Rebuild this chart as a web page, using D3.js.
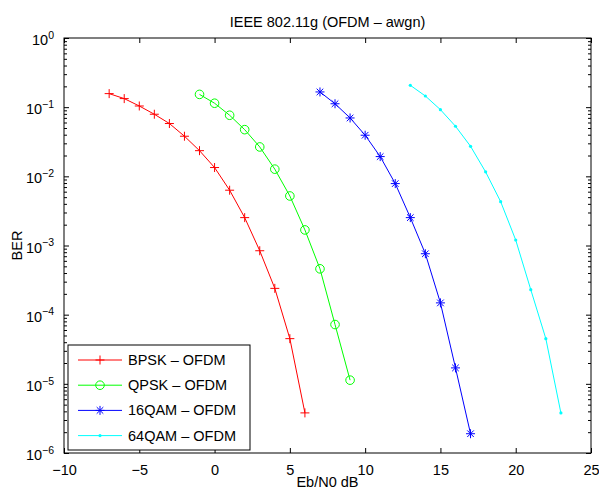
<!DOCTYPE html>
<html>
<head>
<meta charset="utf-8">
<script src="https://cdn.jsdelivr.net/npm/d3@7"></script>
<style>
body { margin: 0; background: #fff; }
svg { font-family: "Liberation Sans", Arial, sans-serif; }
.axis text { font-size: 14.5px; fill: #000; }
.axis line { stroke: #000; }
</style>
</head>
<body>
<script>
var margin = {top: 38, right: 8, bottom: 39, left: 64};
const width = 527, height = 415;

// Eb/N0 (dB) and BER values
var bpskEbN0 = [-7, -6, -5, -4, -3, -2, -1, 0, 1, 2, 3, 4, 5, 6];
var bpskBer = [0.157, 0.133, 0.104, 0.079, 0.058, 0.038, 0.0235, 0.0134, 0.0063, 0.00253, 8.4e-4, 2.4e-4, 4.5e-5, 3.8e-6];

var qpskEbN0 = [-1, 0, 1, 2, 3, 4, 5, 6, 7, 8, 9];
var qpskBer = [0.153, 0.114, 0.0764, 0.0473, 0.0266, 0.0127, 0.0052, 0.00168, 4.6e-4, 7.2e-5, 1.13e-5];

var qam16EbN0 = [7, 8, 9, 10, 11, 12, 13, 14, 15, 16, 17];
var qam16Ber = [0.166, 0.112, 0.0698, 0.0393, 0.0193, 0.00785, 0.00253, 7.6e-4, 1.48e-4, 1.7e-5, 1.9e-6];

var qam64EbN0 = [13, 14, 15, 16, 17, 18, 19, 20, 21, 22, 23];
var qam64Ber = [0.207, 0.145, 0.092, 0.053, 0.0272, 0.0116, 0.0043, 0.0012, 2.3e-4, 4.5e-5, 3.8e-6];

var seriesNames = ["BPSK \u2013 OFDM", "QPSK \u2013 OFDM", "16QAM \u2013 OFDM", "64QAM \u2013 OFDM"];
var seriesColors = ["#ff0000", "#00ff00", "#0000ff", "#00ffff"];
var seriesMarkers = ["plus", "circle", "star", "dot"];

var xTicks = [-10, -5, 0, 5, 10, 15, 20, 25];
var yExponents = [0, -1, -2, -3, -4, -5, -6];

var series = [
  {x: bpskEbN0, y: bpskBer},
  {x: qpskEbN0, y: qpskBer},
  {x: qam16EbN0, y: qam16Ber},
  {x: qam64EbN0, y: qam64Ber}
].map(function(s, i) {
  return {
    name: seriesNames[i], color: seriesColors[i], marker: seriesMarkers[i],
    values: s.x.map(function(v, j) { return {x: v, y: s.y[j]}; })
  };
});

var svg = d3.select("body").append("svg")
  .attr("width", width + margin.left + margin.right)
  .attr("height", height + margin.top + margin.bottom)
  .append("g")
  .attr("transform", "translate(" + margin.left + "," + margin.top + ")");

var x = d3.scaleLinear().domain([-10, 25]).range([0, width]);
var y = d3.scaleLog().domain([1e-6, 1]).range([height, 0]);

var majorY = yExponents.map(function(e) { return Math.pow(10, e); });
var minorY = [];
for (var e = -6; e < 0; e++) {
  for (var m = 2; m <= 9; m++) minorY.push(m * Math.pow(10, e));
}

// frame
svg.append("rect")
  .attr("width", width).attr("height", height)
  .style("fill", "none").style("stroke", "#000").style("stroke-width", 1);

// x axes (ticks pointing inward)
svg.append("g").attr("class", "axis")
  .attr("transform", "translate(0," + height + ")")
  .call(d3.axisBottom(x).tickValues(xTicks).tickSize(-5).tickPadding(12))
  .call(function(g) { g.select(".domain").remove(); });

svg.append("g").attr("class", "axis")
  .call(d3.axisTop(x).tickValues(xTicks).tickSize(-5).tickFormat(""))
  .call(function(g) { g.select(".domain").remove(); });

// y axes
var yLeft = svg.append("g").attr("class", "axis")
  .call(d3.axisLeft(y).tickValues(majorY).tickSize(-5).tickPadding(10).tickFormat(function() { return "10"; }))
  .call(function(g) { g.select(".domain").remove(); });

yLeft.selectAll(".tick text")
  .attr("dy", "0.45em")
  .each(function(d) {
    var ex = Math.round(Math.log10(d));
    d3.select(this).append("tspan")
      .attr("dy", "-0.6em")
      .style("font-size", "10.5px")
      .text(ex === 0 ? "0" : "\u2212" + Math.abs(ex));
  });

svg.append("g").attr("class", "axis")
  .call(d3.axisLeft(y).tickValues(minorY).tickSize(-3).tickFormat(""))
  .call(function(g) { g.select(".domain").remove(); });

svg.append("g").attr("class", "axis")
  .attr("transform", "translate(" + width + ",0)")
  .call(d3.axisRight(y).tickValues(majorY).tickSize(-5).tickFormat(""))
  .call(function(g) { g.select(".domain").remove(); });

svg.append("g").attr("class", "axis")
  .attr("transform", "translate(" + width + ",0)")
  .call(d3.axisRight(y).tickValues(minorY).tickSize(-3).tickFormat(""))
  .call(function(g) { g.select(".domain").remove(); });

// marker drawing
function drawMarker(g, type, color) {
  if (type === "plus") {
    g.append("path").attr("d", "M-4.5,0H4.5M0,-4.5V4.5")
      .style("stroke", color).style("fill", "none");
  } else if (type === "circle") {
    g.append("circle").attr("r", 4.3)
      .style("stroke", color).style("fill", "none");
  } else if (type === "star") {
    g.append("path").attr("d", "M-4.5,0H4.5M0,-4.5V4.5M-3.3,-3.3L3.3,3.3M-3.3,3.3L3.3,-3.3")
      .style("stroke", color).style("fill", "none");
  } else {
    g.append("circle").attr("r", 1.6).style("fill", color);
  }
}

var line = d3.line()
  .x(function(d) { return x(d.x); })
  .y(function(d) { return y(d.y); });

series.forEach(function(s) {
  svg.append("path")
    .datum(s.values)
    .attr("d", line)
    .style("fill", "none")
    .style("stroke", s.color)
    .style("stroke-width", 1);

  svg.selectAll(null)
    .data(s.values)
    .enter().append("g")
    .attr("transform", function(d) { return "translate(" + x(d.x) + "," + y(d.y) + ")"; })
    .each(function() { drawMarker(d3.select(this), s.marker, s.color); });
});

// title and axis labels
svg.append("text")
  .attr("x", width / 2).attr("y", -11)
  .attr("text-anchor", "middle")
  .style("font-size", "14.5px")
  .text("IEEE 802.11g (OFDM \u2013 awgn)");

svg.append("text")
  .attr("x", width / 2).attr("y", height + 34)
  .attr("text-anchor", "middle")
  .style("font-size", "14.5px")
  .text("Eb/N0 dB");

svg.append("text")
  .attr("transform", "translate(" + (-42) + "," + (height / 2) + ") rotate(-90)")
  .attr("text-anchor", "middle")
  .style("font-size", "14.5px")
  .text("BER");

// legend
var legend = svg.append("g").attr("transform", "translate(4,307)");
legend.append("rect")
  .attr("width", 182).attr("height", 105)
  .style("fill", "#fff").style("stroke", "#000");

series.forEach(function(s, i) {
  var row = legend.append("g").attr("transform", "translate(0," + (15 + i * 25.2) + ")");
  row.append("line").attr("x1", 10).attr("x2", 54)
    .style("stroke", s.color);
  var mk = row.append("g").attr("transform", "translate(32,0)");
  drawMarker(mk, s.marker, s.color);
  row.append("text").attr("x", 60).attr("dy", "0.35em")
    .style("font-size", "14.5px")
    .text(s.name);
});
</script>
</body>
</html>
